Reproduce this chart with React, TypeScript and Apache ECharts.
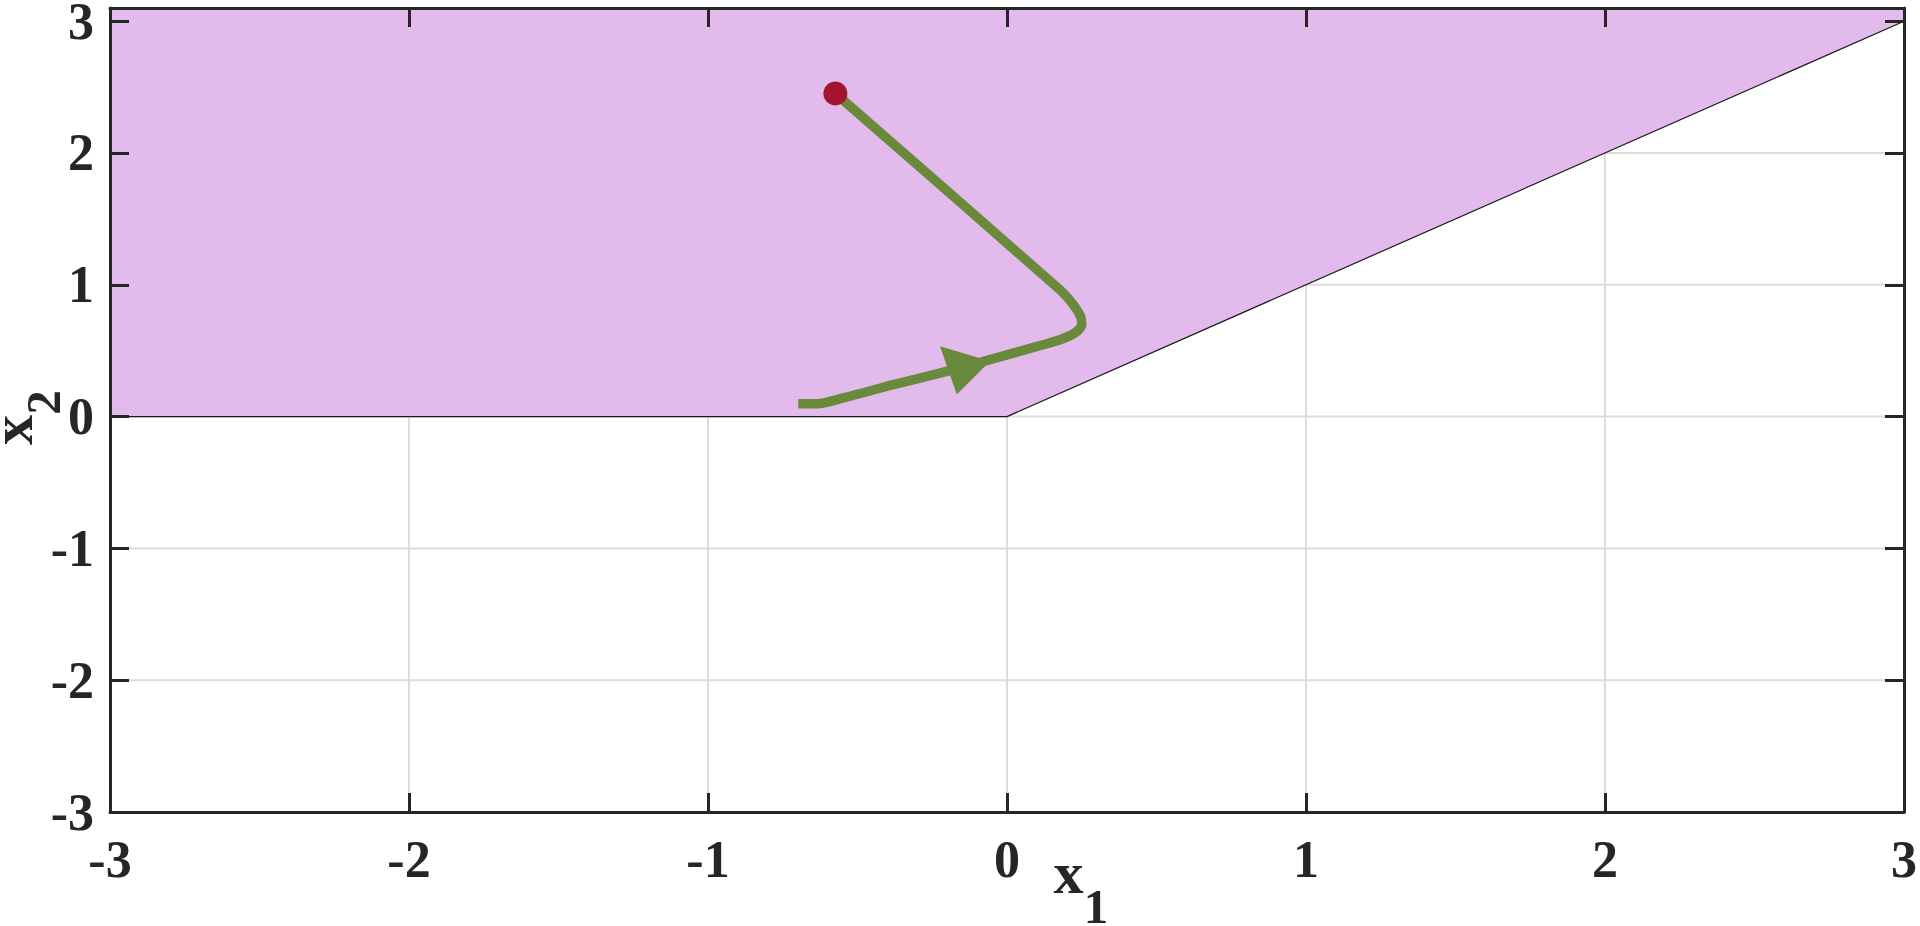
import React, { useEffect, useRef } from 'react';
import * as echarts from 'echarts';

const xTicks = [-3, -2, -1, 0, 1, 2, 3];
const yTicks = [-3, -2, -1, 0, 1, 2, 3];
const xRange = [-3, 3];
const yRange = [-3, 3.1];

// feasible (shaded) region
const regionX = [-3, 0, 3, 3, -3];
const regionY = [0, 0, 3, 3.1, 3.1];
// boundary of region
const boundaryX = [-3, 0, 3];
const boundaryY = [0, 0, 3];

// trajectory
const trajX = [-0.574, 0.177, 0.222, 0.246, 0.25, 0.227, 0.177, 0.121, 0.021, -0.057, -0.202, -0.38, -0.547, -0.636, -0.698];
const trajY = [2.452, 0.962, 0.848, 0.76, 0.697, 0.634, 0.583, 0.545, 0.482, 0.432, 0.343, 0.242, 0.142, 0.098, 0.098];

// arrow head vertices
const arrowX = [-0.224, -0.168, -0.057];
const arrowY = [0.533, 0.167, 0.419];

// initial point
const startPoint = [-0.574, 2.452];

const AXIS_COLOR = '#262626';
const FONT = 'Liberation Serif';

function buildAxis(pos: string, range: number[], ticks: number[], showLabel: boolean, isX: boolean) {
  return {
    type: 'value',
    position: pos,
    min: range[0],
    max: range[1],
    interval: 1,
    z: 10,
    axisLine: { show: true, onZero: false, lineStyle: { color: AXIS_COLOR, width: 3 } },
    axisTick: { show: true, inside: true, length: 19, customValues: ticks, lineStyle: { color: AXIS_COLOR, width: 3 } },
    axisLabel: {
      show: showLabel,
      customValues: ticks,
      margin: isX ? 27 : 16,
      color: AXIS_COLOR,
      fontFamily: FONT,
      fontWeight: 'bold',
      fontSize: 52,
      lineHeight: 40,
    },
    splitLine: { show: false },
  };
}

export default function App() {
  const ref = useRef<HTMLDivElement>(null);
  useEffect(() => {
    if (!ref.current) return;
    const chart = echarts.init(ref.current, undefined, { renderer: 'svg' });
    const gridLineStyle = { stroke: '#dcdcdc', lineWidth: 2 };
    const option: any = {
      animation: false,
      backgroundColor: '#ffffff',
      grid: { left: 110, right: 16, top: 8, bottom: 114, containLabel: false, outerBoundsMode: 'none' },
      xAxis: [buildAxis('bottom', xRange, xTicks, true, true), buildAxis('top', xRange, xTicks, false, true)],
      yAxis: [buildAxis('left', yRange, yTicks, true, false), buildAxis('right', yRange, yTicks, false, false)],
      series: [
        {
          type: 'custom',
          z: 1,
          silent: true,
          data: xTicks.map((v) => [v, 0]),
          renderItem: (params: any, api: any) => {
            const v = api.value(0);
            const p1 = api.coord([v, yRange[0]]);
            const p2 = api.coord([v, yRange[1]]);
            return { type: 'line', shape: { x1: p1[0], y1: p1[1], x2: p2[0], y2: p2[1] }, style: gridLineStyle };
          },
        },
        {
          type: 'custom',
          z: 1,
          silent: true,
          data: yTicks.map((v) => [0, v]),
          renderItem: (params: any, api: any) => {
            const v = api.value(1);
            const p1 = api.coord([xRange[0], v]);
            const p2 = api.coord([xRange[1], v]);
            return { type: 'line', shape: { x1: p1[0], y1: p1[1], x2: p2[0], y2: p2[1] }, style: gridLineStyle };
          },
        },
        {
          type: 'custom',
          z: 2,
          silent: true,
          data: [[0, 0]],
          renderItem: (params: any, api: any) => {
            const pts = regionX.map((x, i) => api.coord([x, regionY[i]]));
            return { type: 'polygon', shape: { points: pts }, style: { fill: '#E2BAEC' } };
          },
        },
        {
          type: 'line',
          z: 3,
          silent: true,
          showSymbol: false,
          data: boundaryX.map((x, i) => [x, boundaryY[i]]),
          lineStyle: { color: '#1a1a1a', width: 1.2 },
        },
        {
          type: 'line',
          z: 4,
          silent: true,
          showSymbol: false,
          smooth: 0.25,
          data: trajX.map((x, i) => [x, trajY[i]]),
          lineStyle: { color: '#688A3A', width: 9.5, cap: 'butt', join: 'round' },
        },
        {
          type: 'custom',
          z: 5,
          silent: true,
          data: [[0, 0]],
          renderItem: (params: any, api: any) => {
            const pts = arrowX.map((x, i) => api.coord([x, arrowY[i]]));
            return { type: 'polygon', shape: { points: pts }, style: { fill: '#688A3A' } };
          },
        },
        {
          type: 'scatter',
          z: 6,
          silent: true,
          symbol: 'circle',
          symbolSize: 24,
          data: [startPoint],
          itemStyle: { color: '#A41430', opacity: 1 },
        },
      ],
      graphic: [
        { type: 'text', z: 20, x: 1068.5, y: 873, style: { text: 'x', font: `bold 60px "${FONT}"`, lineHeight: 30, fill: AXIS_COLOR, textAlign: 'center', textVerticalAlign: 'middle' } },
        { type: 'text', z: 20, x: 1096, y: 906.5, style: { text: '1', font: `bold 49px "${FONT}"`, lineHeight: 34, fill: AXIS_COLOR, textAlign: 'center', textVerticalAlign: 'middle' } },
        { type: 'text', z: 20, x: 12, y: 430, rotation: Math.PI / 2, style: { text: 'x', font: `bold 60px "${FONT}"`, lineHeight: 22, fill: AXIS_COLOR, textAlign: 'center', textVerticalAlign: 'middle' } },
        { type: 'text', z: 20, x: 43.5, y: 402.5, rotation: Math.PI / 2, style: { text: '2', font: `bold 49px "${FONT}"`, lineHeight: 34, fill: AXIS_COLOR, textAlign: 'center', textVerticalAlign: 'middle' } },
      ],
    };
    chart.setOption(option);
    return () => chart.dispose();
  }, []);
  return <div ref={ref} style={{ position: 'fixed', left: 0, top: 0, width: 1920, height: 926, background: '#fff' }} />;
}
